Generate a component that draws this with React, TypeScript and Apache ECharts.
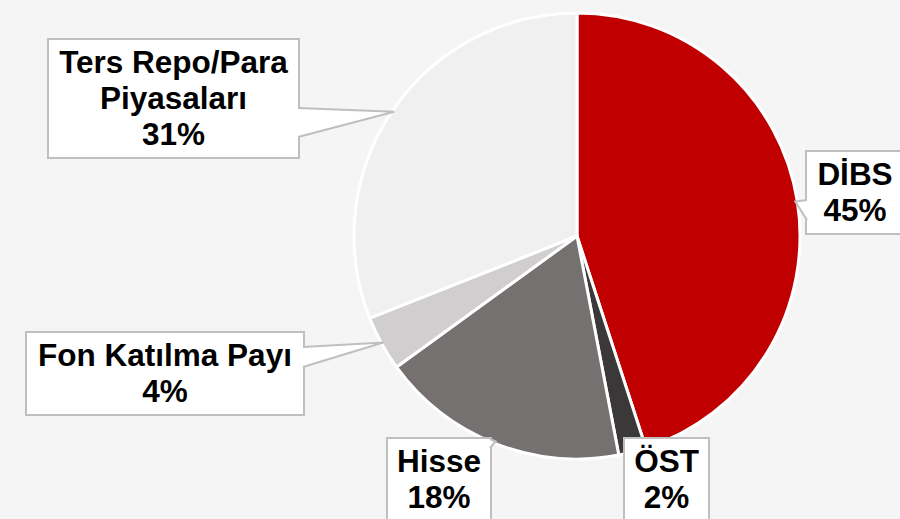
import React, { useEffect, useRef } from "react";
import * as echarts from "echarts";

const categories = ["DİBS", "ÖST", "Hisse", "Fon Katılma Payı", "Ters Repo/Para\nPiyasaları"];
const shares = [45, 2, 18, 4, 31];
const colors = ["#c00000", "#3b3839", "#767171", "#d0cece", "#f0f0f0"];

// layout of the label boxes: centre x, top y, content width
const boxCx = [855, 666.5, 439, 165, 173.5];
const boxTop = [152, 439, 439, 333, 40];
const boxW = [76, 63, 82, 256, 229];
// callout pointer: side of the box and offsets of its base along that side (null = none)
const pointerSide = ["left", null, "right", "right", "right"];
const pointerBase = [[48, 68], null, [0, 9], [14, 34], [68, 97]];

const CX = 577;
const CY = 236;
const R = 223;
const PAD = [4, 10, 5, 10];
const LH = 36;

export default function App() {
  const ref = useRef<HTMLDivElement>(null);
  useEffect(() => {
    if (!ref.current) return;
    const chart = echarts.init(ref.current, null, { renderer: "svg" });
    const total = shares.reduce((a, b) => a + b, 0);

    // build callout pointers from the data's mid angles
    const graphics: any[] = [];
    let cum = 0;
    shares.forEach((v, i) => {
      const mid = ((cum + v / 2) / total) * Math.PI * 2;
      cum += v;
      const side = pointerSide[i];
      const base = pointerBase[i];
      if (!side || !base) return;
      const tip = [CX + (R - 2) * Math.sin(mid), CY - (R - 2) * Math.cos(mid)];
      const lines = categories[i].split("\n").length + 1;
      const outerW = boxW[i] + PAD[1] + PAD[3];
      const left = boxCx[i] - outerW / 2;
      const right = left + outerW;
      const top = boxTop[i];
      let b1: number[], b2: number[], i1: number[], i2: number[];
      if (side === "right") {
        b1 = [right, top + base[0]];
        b2 = [right, top + base[1]];
        i1 = [right - 2, top + base[0]];
        i2 = [right - 2, top + base[1]];
      } else {
        b1 = [left, top + base[0]];
        b2 = [left, top + base[1]];
        i1 = [left + 2, top + base[0]];
        i2 = [left + 2, top + base[1]];
      }
      void lines;
      graphics.push({
        type: "polygon",
        z: 100,
        shape: { points: [i1, b1, tip, b2, i2] },
        style: { fill: "#ffffff", stroke: "none" },
      });
      graphics.push({
        type: "polyline",
        z: 101,
        shape: { points: [b1, tip, b2] },
        style: { stroke: "#bfbfbf", lineWidth: 2, fill: "none" },
      });
    });

    chart.setOption({
      animation: false,
      backgroundColor: "#f5f5f5",
      graphic: graphics,
      series: [
        {
          type: "pie",
          center: [CX, CY],
          radius: [0, R],
          startAngle: 90,
          clockwise: true,
          itemStyle: { borderColor: "#ffffff", borderWidth: 3 },
          label: {
            show: true,
            position: "inside",
            formatter: (p: any) => `${p.name}\n${p.value}%`,
            fontFamily: "'Liberation Sans', Arial, sans-serif",
            fontWeight: "bold",
            fontSize: 31.5,
            lineHeight: LH,
            color: "#000000",
            backgroundColor: "#ffffff",
            borderColor: "#bfbfbf",
            borderWidth: 2,
            padding: PAD,
            align: "center",
            overflow: "none",
          },
          labelLine: { show: false },
          labelLayout: (params: any) => {
            const i = params.dataIndex;
            return {
              x: boxCx[i],
              y: boxTop[i],
              align: "center",
              verticalAlign: "top",
            };
          },
          data: categories.map((name, i) => ({
            name,
            value: shares[i],
            itemStyle: { color: colors[i] },
            label: { width: boxW[i] },
          })),
        },
      ],
    });
    return () => chart.dispose();
  }, []);
  return (
    <div
      ref={ref}
      style={{ position: "absolute", left: 0, top: 0, width: 900, height: 519 }}
    />
  );
}
